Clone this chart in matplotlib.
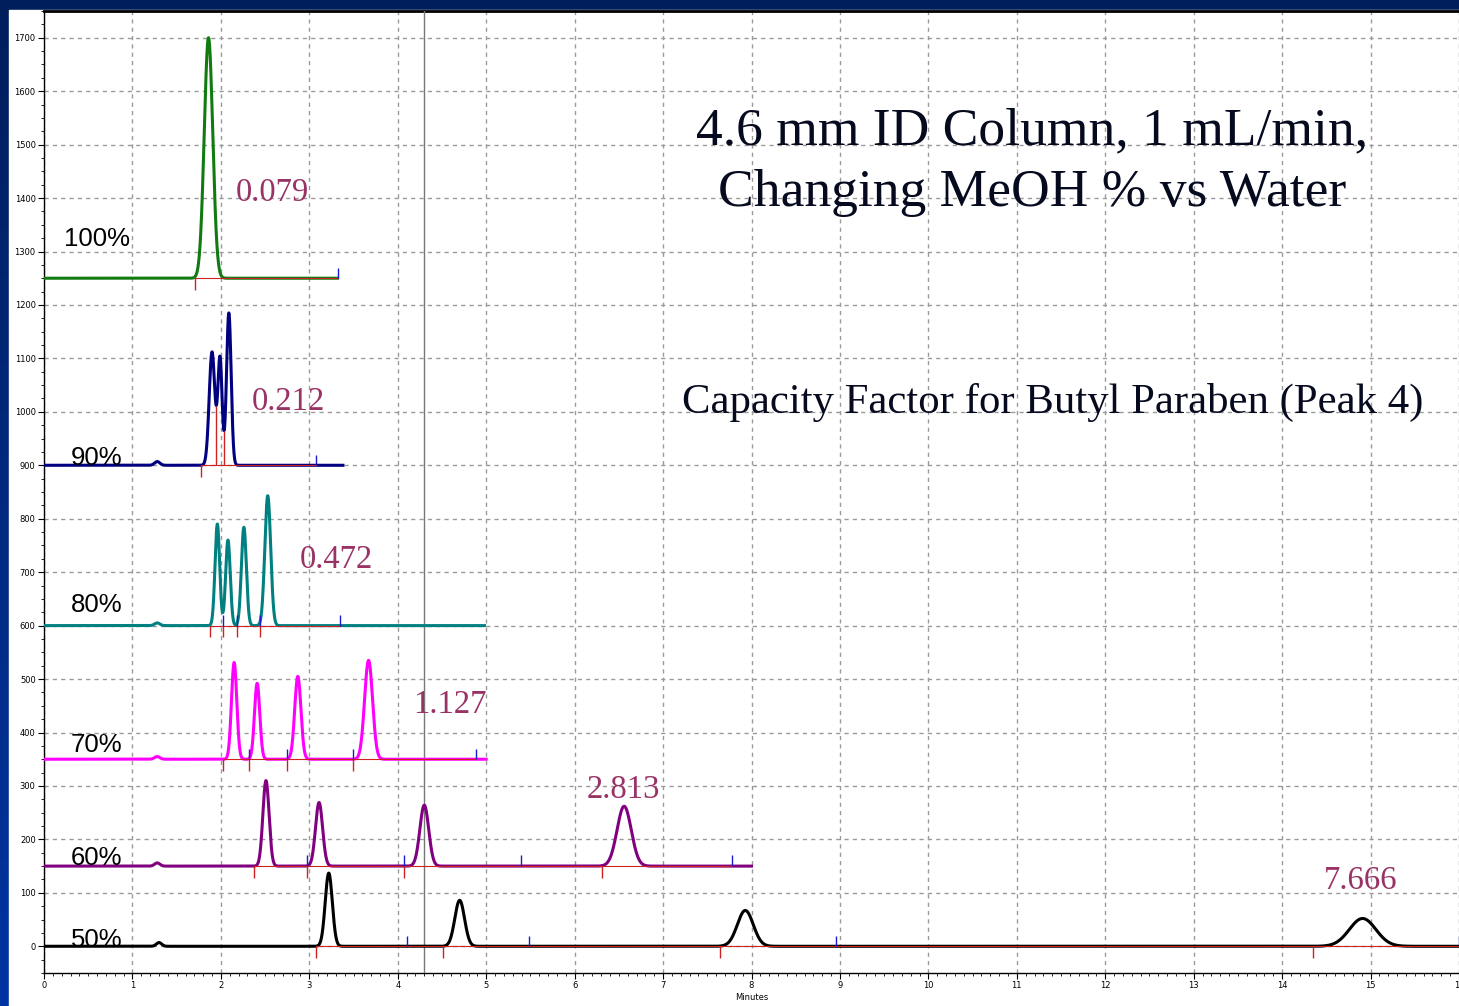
import matplotlib
matplotlib.use('Agg')
import matplotlib.pyplot as plt
import numpy as np
from matplotlib.patches import Rectangle
from matplotlib.ticker import MultipleLocator

# Peak tables: retention time (min), height above baseline, width (sigma, min)
levels = ['100%', '90%', '80%', '70%', '60%', '50%']
baselines = [1250, 900, 600, 350, 150, 0]
run_ends = [3.32, 3.38, 4.98, 5.0, 8.0, 16.0]
colors = ['#117a11', '#000080', '#008080', '#ff00ff', '#800080', '#000000']

rt_100 = [1.86]
h_100 = [450]
w_100 = [0.048]

rt_90 = [1.28, 1.90, 1.99, 2.09]
h_90 = [7, 212, 200, 285]
w_90 = [0.03, 0.032, 0.024, 0.026]

rt_80 = [1.28, 1.96, 2.08, 2.26, 2.53]
h_80 = [5, 190, 160, 184, 243]
w_80 = [0.03, 0.026, 0.026, 0.028, 0.033]

rt_70 = [1.28, 2.15, 2.41, 2.87, 3.67]
h_70 = [5, 181, 142, 155, 185]
w_70 = [0.03, 0.03, 0.03, 0.035, 0.045]

rt_60 = [1.28, 2.51, 3.11, 4.30, 6.56]
h_60 = [6, 160, 119, 114, 112]
w_60 = [0.03, 0.035, 0.04, 0.05, 0.08]

rt_50 = [1.30, 3.22, 4.70, 7.93, 14.91]
h_50 = [7, 137, 86, 67, 52]
w_50 = [0.03, 0.04, 0.055, 0.09, 0.15]

all_rt = [rt_100, rt_90, rt_80, rt_70, rt_60, rt_50]
all_h = [h_100, h_90, h_80, h_70, h_60, h_50]
all_w = [w_100, w_90, w_80, w_70, w_60, w_50]

# integration events: peak starts (red ticks) and peak ends (blue ticks)
starts = [[1.71], [1.77], [1.88, 2.02, 2.18, 2.44], [2.02, 2.32, 2.75, 3.49],
          [2.38, 2.97, 4.07, 6.31], [3.07, 4.51, 7.64, 14.35]]
stops = [[3.32], [3.08], [2.02, 2.18, 2.44, 3.35], [2.32, 2.75, 3.49, 4.88],
         [2.97, 4.07, 5.39, 7.78], [4.11, 5.48, 8.95, 16.0]]
drops_90 = [1.95, 2.04]

# capacity factor for butyl paraben, with label positions
k_labels = ['0.079', '0.212', '0.472', '1.127', '2.813', '7.666']
k_x = [2.17, 2.35, 2.89, 4.17, 6.14, 14.47]
k_y = [1395, 1004, 707, 436, 277, 107]
pct_x = [0.23, 0.30, 0.30, 0.30, 0.30, 0.30]
pct_y = [1311, 901, 625, 363, 153, -2]

fig = plt.figure(figsize=(14.59, 10.06), dpi=100)

# slide background: blue border with gradient, white panel
bg = fig.add_axes([0, 0, 1, 1], zorder=-10)
grad = np.linspace(0, 1, 256).reshape(-1, 1)
top_c = np.array([0, 30, 92]) / 255
bot_c = np.array([0, 52, 162]) / 255
img = top_c[None, None, :] * (1 - grad[:, :, None]) + bot_c[None, None, :] * grad[:, :, None]
bg.imshow(img, aspect='auto', extent=[0, 1, 0, 1])
bg.add_patch(Rectangle((9 / 1459, 0), 1, 1 - 10 / 1006, color='white'))
bg.set_xlim(0, 1)
bg.set_ylim(0, 1)
bg.axis('off')

ax = fig.add_axes([44 / 1459, 1 - 973 / 1006, 1 - 44 / 1459, (973 - 11) / 1006])
ax.set_facecolor('white')
ax.set_xlim(0, 16)
ax.set_ylim(-50, 1750)

for i in range(len(levels)):
    x = np.linspace(0, run_ends[i], 4000)
    y = np.full_like(x, baselines[i], dtype=float)
    for rt, h, w in zip(all_rt[i], all_h[i], all_w[i]):
        y += h * np.exp(-0.5 * ((x - rt) / w) ** 2)
    ax.plot(x, y, color=colors[i], lw=2.2, zorder=4)
    b = baselines[i]
    ax.plot([starts[i][0], stops[i][-1]], [b, b], color='#cc2222', lw=0.8, zorder=5)
    ax.vlines(starts[i], b - 22, b, color='#cc2222', lw=1, zorder=5)
    ax.vlines(stops[i], b, b + 20, color='#1a1acc', lw=1, zorder=5)
    ax.text(pct_x[i], pct_y[i], levels[i], fontsize=18.5, family='Liberation Sans',
            ha='left', va='baseline', zorder=6)
    ax.text(k_x[i], k_y[i], k_labels[i], fontsize=23.5, family='Liberation Serif',
            color='#993366', ha='left', va='baseline', zorder=6)

# drop lines between unresolved peaks in the 90% run
ax.vlines(drops_90, 900, [1010, 965], color='#cc2222', lw=1, zorder=5)

ax.axvline(4.3, color='#777777', lw=1, zorder=3)

ax.text(11.17, 1386, '4.6 mm ID Column, 1 mL/min,\nChanging MeOH % vs Water',
        fontsize=38.5, family='Liberation Serif', ha='center', va='baseline',
        linespacing=1.36, color='#050a1e', zorder=6)
ax.text(11.41, 998, 'Capacity Factor for Butyl Paraben (Peak 4)', fontsize=30.8,
        family='Liberation Serif', ha='center', va='baseline', color='#050a1e', zorder=6)

ax.xaxis.set_major_locator(MultipleLocator(1))
ax.xaxis.set_minor_locator(MultipleLocator(0.1))
ax.yaxis.set_major_locator(MultipleLocator(100))
ax.yaxis.set_minor_locator(MultipleLocator(25))
ax.grid(True, which='major', color='#9a9a9a', ls=(0, (3, 3)), lw=1, zorder=1)
ax.set_axisbelow(True)
ax.tick_params(which='major', direction='out', length=4, width=0.8, labelsize=6, pad=2)
ax.tick_params(which='minor', direction='out', length=2, width=0.6)
ax.set_yticks(np.arange(0, 1701, 100))
ax.set_xlabel('Minutes', fontsize=6, labelpad=2)
ax.spines['right'].set_visible(False)
ax.spines['top'].set_linewidth(2)
ax.spines['left'].set_linewidth(1)
ax.spines['bottom'].set_linewidth(1)

fig.savefig('out.png', dpi=100)
